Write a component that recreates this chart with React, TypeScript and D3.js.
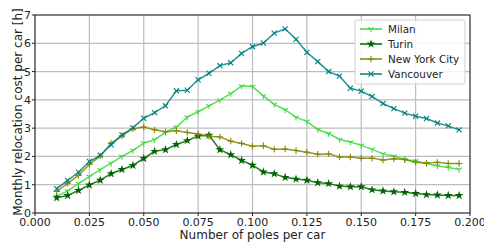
import React from 'react';
import * as d3 from 'd3';

const W = 484;
const H = 244;

// poles per car: 0.010 .. 0.195 step 0.005
const poles = [
  0.010, 0.015, 0.020, 0.025, 0.030, 0.035, 0.040, 0.045, 0.050, 0.055,
  0.060, 0.065, 0.070, 0.075, 0.080, 0.085, 0.090, 0.095, 0.100, 0.105,
  0.110, 0.115, 0.120, 0.125, 0.130, 0.135, 0.140, 0.145, 0.150, 0.155,
  0.160, 0.165, 0.170, 0.175, 0.180, 0.185, 0.190, 0.195
];

const milan = [
  0.59, 0.78, 1.04, 1.29, 1.53, 1.76, 2.00, 2.21, 2.47, 2.59,
  2.85, 3.04, 3.39, 3.58, 3.79, 3.99, 4.22, 4.49, 4.47, 4.14,
  3.84, 3.65, 3.38, 3.24, 2.95, 2.81, 2.60, 2.51, 2.39, 2.25,
  2.09, 2.01, 1.89, 1.84, 1.75, 1.66, 1.61, 1.54
];

const turin = [
  0.54, 0.62, 0.80, 0.99, 1.16, 1.39, 1.54, 1.68, 1.93, 2.18,
  2.24, 2.42, 2.56, 2.72, 2.75, 2.24, 2.06, 1.86, 1.69, 1.45,
  1.39, 1.26, 1.20, 1.16, 1.07, 1.04, 0.95, 0.93, 0.93, 0.82,
  0.78, 0.75, 0.73, 0.69, 0.65, 0.64, 0.62, 0.62
];

const newYork = [
  0.76, 1.05, 1.33, 1.72, 2.01, 2.47, 2.73, 2.98, 3.04, 2.94,
  2.87, 2.91, 2.85, 2.79, 2.71, 2.69, 2.54, 2.46, 2.36, 2.38,
  2.25, 2.26, 2.21, 2.15, 2.08, 2.09, 1.98, 1.98, 1.94, 1.94,
  1.87, 1.92, 1.89, 1.79, 1.76, 1.79, 1.75, 1.75
];

const vancouver = [
  0.86, 1.15, 1.44, 1.82, 2.04, 2.41, 2.76, 3.01, 3.35, 3.55,
  3.79, 4.32, 4.34, 4.71, 4.94, 5.21, 5.31, 5.64, 5.88, 6.01,
  6.36, 6.51, 6.14, 5.68, 5.35, 5.00, 4.84, 4.41, 4.31, 4.12,
  3.87, 3.69, 3.53, 3.42, 3.34, 3.18, 3.08, 2.94
];

const xTicks = [0, 0.025, 0.05, 0.075, 0.1, 0.125, 0.15, 0.175, 0.2];
const yTicks = [0, 1, 2, 3, 4, 5, 6, 7];

const series = [
  { name: 'Milan', values: milan, color: '#3cd83c', marker: 'tri' },
  { name: 'Turin', values: turin, color: '#006400', marker: 'star' },
  { name: 'New York City', values: newYork, color: '#868600', marker: 'plus' },
  { name: 'Vancouver', values: vancouver, color: '#008080', marker: 'x' }
];

const margin = { left: 35, right: 14, top: 15, bottom: 31 };
const FONT = 'DejaVu Sans, sans-serif';

function Marker({ kind, x, y, color }: { kind: string; x: number; y: number; color: string }) {
  const s = 3.2;
  if (kind === 'tri') {
    return (
      <g transform={`translate(${x},${y})`} stroke={color} strokeWidth={1.1}>
        <line x1={0} y1={0} x2={0} y2={s} />
        <line x1={0} y1={0} x2={-s * 0.87} y2={-s * 0.5} />
        <line x1={0} y1={0} x2={s * 0.87} y2={-s * 0.5} />
      </g>
    );
  }
  if (kind === 'plus') {
    return (
      <g transform={`translate(${x},${y})`} stroke={color} strokeWidth={1.1}>
        <line x1={-s} y1={0} x2={s} y2={0} />
        <line x1={0} y1={-s} x2={0} y2={s} />
      </g>
    );
  }
  if (kind === 'x') {
    return (
      <g transform={`translate(${x},${y})`} stroke={color} strokeWidth={1.1}>
        <line x1={-s * 0.8} y1={-s * 0.8} x2={s * 0.8} y2={s * 0.8} />
        <line x1={-s * 0.8} y1={s * 0.8} x2={s * 0.8} y2={-s * 0.8} />
      </g>
    );
  }
  const star = d3.symbol().type(d3.symbolStar).size(24)();
  return <path d={star || ''} transform={`translate(${x},${y})`} fill={color} />;
}

export default function App() {
  const x = d3.scaleLinear().domain([0, 0.2]).range([margin.left, W - margin.right]);
  const y = d3.scaleLinear().domain([0, 7]).range([H - margin.bottom, margin.top]);
  const line = d3.line<number>();
  const x0 = margin.left;
  const x1 = W - margin.right;
  const y0 = H - margin.bottom;
  const y1 = margin.top;

  const lx = 355;
  const ly = 20;

  return (
    <svg width={W} height={H} style={{ position: 'absolute', left: 0, top: 0, background: '#fff' }}
      fontFamily={FONT}>
      {/* grid */}
      {xTicks.map(t => (
        <line key={'gx' + t} x1={x(t)} x2={x(t)} y1={y0} y2={y1} stroke="#bdbdbd" strokeWidth={1.2} />
      ))}
      {yTicks.map(t => (
        <line key={'gy' + t} x1={x0} x2={x1} y1={y(t)} y2={y(t)} stroke="#bdbdbd" strokeWidth={1.2} />
      ))}

      {/* series */}
      {series.map(s => (
        <g key={s.name}>
          <path
            d={line(s.values.map((v, i) => [x(poles[i]), y(v)] as [number, number])) || ''}
            fill="none" stroke={s.color} strokeWidth={1.5} strokeOpacity={0.85} />
          {s.values.map((v, i) => (
            <Marker key={i} kind={s.marker} x={x(poles[i])} y={y(v)} color={s.color} />
          ))}
        </g>
      ))}

      {/* axes frame */}
      <rect x={x0} y={y1} width={x1 - x0} height={y0 - y1} fill="none" stroke="#222" strokeWidth={1} />

      {/* ticks */}
      {xTicks.map(t => (
        <g key={'tx' + t}>
          <line x1={x(t)} x2={x(t)} y1={y0} y2={y0 + 3} stroke="#222" />
          <text x={x(t)} y={y0 + 13} textAnchor="middle" fontSize={11} fill="#222">{d3.format('.3f')(t)}</text>
        </g>
      ))}
      {yTicks.map(t => (
        <g key={'ty' + t}>
          <line x1={x0 - 3} x2={x0} y1={y(t)} y2={y(t)} stroke="#222" />
          <text x={x0 - 4} y={y(t)} dy="0.36em" textAnchor="end" fontSize={11} fill="#222">{t}</text>
        </g>
      ))}

      {/* axis labels */}
      <text x={(x0 + x1) / 2} y={H - 5} textAnchor="middle" fontSize={12} fill="#222">Number of poles per car</text>
      <text transform={`translate(22,${(y0 + y1) / 2 - 2}) rotate(-90)`} textAnchor="middle" fontSize={12} fill="#222">
        Monthly relocation cost per car [h]
      </text>

      {/* legend */}
      <rect x={lx} y={ly} width={110} height={64} rx={2} fill="#fff" fillOpacity={0.85} stroke="#d0d0d0" />
      {series.map((s, i) => {
        const yy = ly + 9 + i * 15;
        return (
          <g key={'lg' + s.name}>
            <line x1={lx + 5} x2={lx + 27} y1={yy} y2={yy} stroke={s.color} strokeWidth={1.5} />
            <Marker kind={s.marker} x={lx + 16} y={yy} color={s.color} />
            <text x={lx + 33} y={yy} dy="0.36em" fontSize={10.4} fill="#222">{s.name}</text>
          </g>
        );
      })}
    </svg>
  );
}
